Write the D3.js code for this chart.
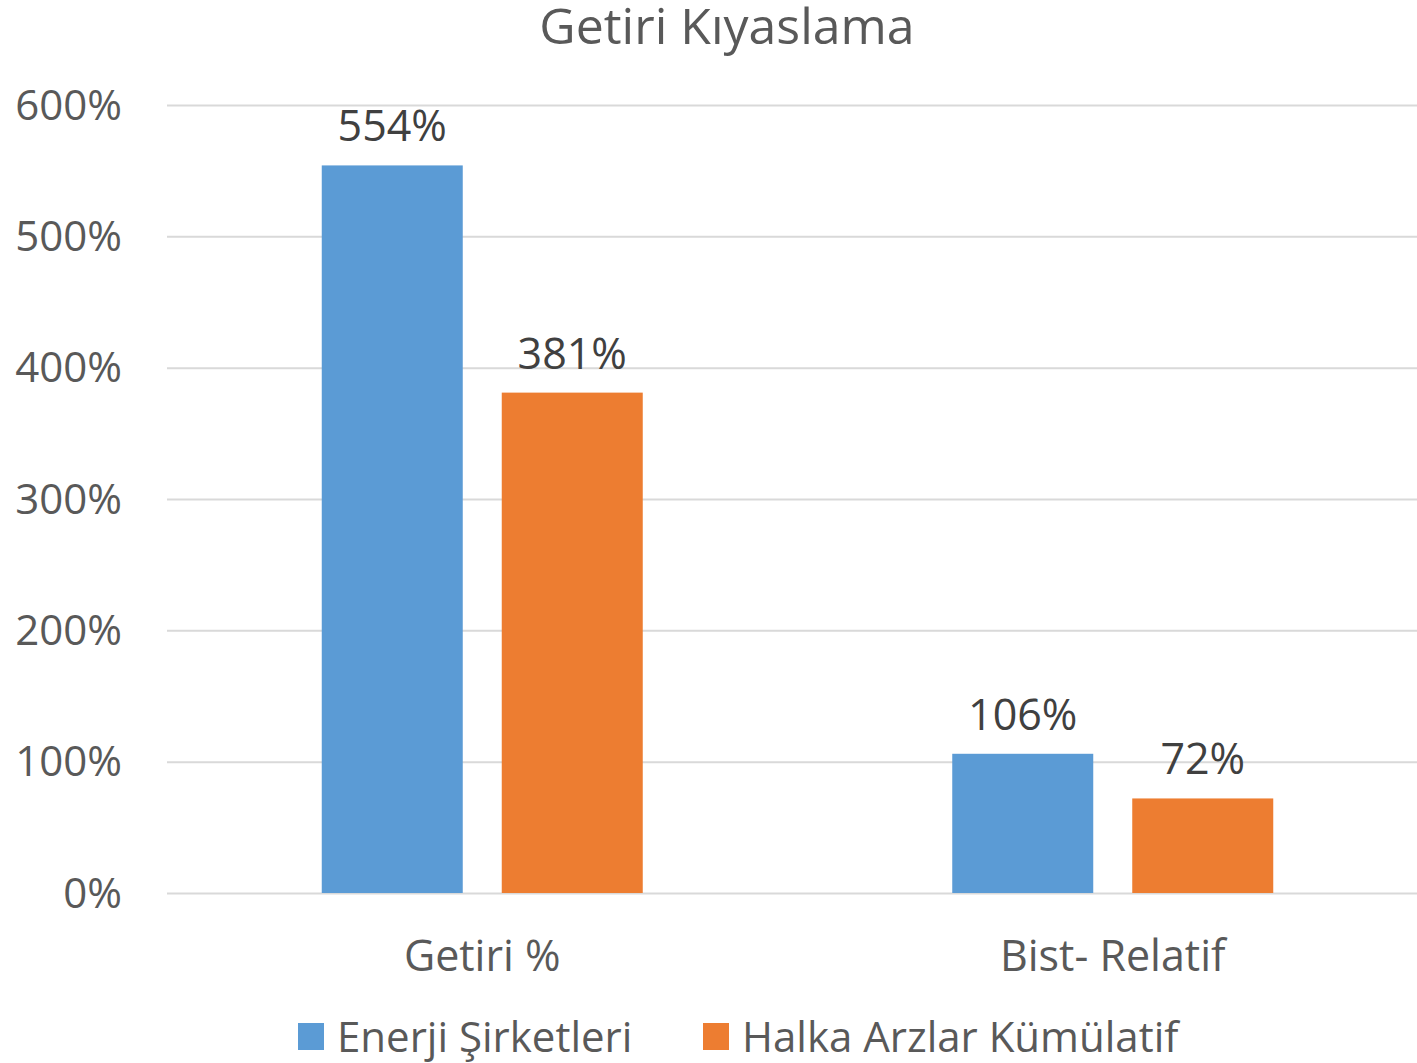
<!DOCTYPE html>
<html>
<head>
<meta charset="utf-8">
<script src="https://cdn.jsdelivr.net/npm/d3@7"></script>
<style>
  body { margin: 0; background: #fff; }
  text { font-family: "Open Sans", sans-serif; }
</style>
</head>
<body>
<div id="chart"></div>
<script>
// data
var categories = ["Getiri %", "Bist- Relatif"];
var seriesNames = ["Enerji Şirketleri", "Halka Arzlar Kümülatif"];
var enerji = [554, 106];
var halka = [381, 72];
var yTicks = [0, 100, 200, 300, 400, 500, 600];
var colors = ["#5B9BD5", "#ED7D31"];

var width = 1417, height = 1063;

var svg = d3.select("#chart").append("svg")
	.attr("width", width)
	.attr("height", height);

// scales
var x = d3.scaleBand()
	.domain(categories)
	.range([167, 1428])
	.paddingInner(0)
	.paddingOuter(0);

var y = d3.scaleLinear()
	.domain([0, 600])
	.range([893, 105]);

var barW = 141, barGap = 39;
var xs = d3.scaleBand()
	.domain(seriesNames)
	.range([0, barW * 2 + barGap])
	.paddingInner(barGap / (barW + barGap));

// gridlines
svg.append("g").selectAll("line")
	.data(yTicks)
	.enter().append("line")
	.attr("x1", 167).attr("x2", width)
	.attr("y1", function(d){ return y(d) + 0.5; })
	.attr("y2", function(d){ return y(d) + 0.5; })
	.attr("stroke", "#D9D9D9")
	.attr("stroke-width", 2);

// y tick labels
svg.append("g").selectAll("text")
	.data(yTicks)
	.enter().append("text")
	.attr("x", 122)
	.attr("y", function(d){ return y(d); })
	.attr("dy", "0.35em")
	.attr("text-anchor", "end")
	.attr("font-size", "42px")
	.attr("fill", "#595959")
	.text(function(d){ return d + "%"; });

// bars
var rows = categories.map(function(c, i){
	return [{ cat: c, s: seriesNames[0], v: enerji[i], c: colors[0] },
	        { cat: c, s: seriesNames[1], v: halka[i], c: colors[1] }];
});
var flat = [].concat.apply([], rows);

var groupOffset = (x.bandwidth() - (barW * 2 + barGap)) / 2;

svg.append("g").selectAll("rect")
	.data(flat)
	.enter().append("rect")
	.attr("x", function(d){ return x(d.cat) + groupOffset + xs(d.s); })
	.attr("y", function(d){ return y(d.v); })
	.attr("width", xs.bandwidth())
	.attr("height", function(d){ return y(0) - y(d.v); })
	.attr("fill", function(d){ return d.c; });

// value labels
svg.append("g").selectAll("text")
	.data(flat)
	.enter().append("text")
	.attr("x", function(d){ return x(d.cat) + groupOffset + xs(d.s) + xs.bandwidth() / 2; })
	.attr("y", function(d){ return y(d.v) - 24; })
	.attr("text-anchor", "middle")
	.attr("font-size", "43px")
	.attr("fill", "#404040")
	.text(function(d){ return d.v + "%"; });

// category labels
svg.append("g").selectAll("text")
	.data(categories)
	.enter().append("text")
	.attr("x", function(d){ return x(d) + x.bandwidth() / 2; })
	.attr("y", 971)
	.attr("text-anchor", "middle")
	.attr("font-size", "43px")
	.attr("fill", "#595959")
	.text(function(d){ return d; });

// title
svg.append("text")
	.attr("x", 727)
	.attr("y", 44)
	.attr("text-anchor", "middle")
	.attr("font-size", "50px")
	.attr("fill", "#595959")
	.text("Getiri Kıyaslama");

// legend
var legendX = [298, 703];
var legend = svg.append("g").selectAll("g")
	.data(seriesNames)
	.enter().append("g")
	.attr("transform", function(d, i){ return "translate(" + legendX[i] + ",1023)"; });
legend.append("rect")
	.attr("width", 26).attr("height", 27)
	.attr("fill", function(d, i){ return colors[i]; });
legend.append("text")
	.attr("x", 39)
	.attr("y", 14)
	.attr("dy", "0.35em")
	.attr("font-size", "42px")
	.attr("fill", "#595959")
	.text(function(d){ return d; });
</script>
</body>
</html>
